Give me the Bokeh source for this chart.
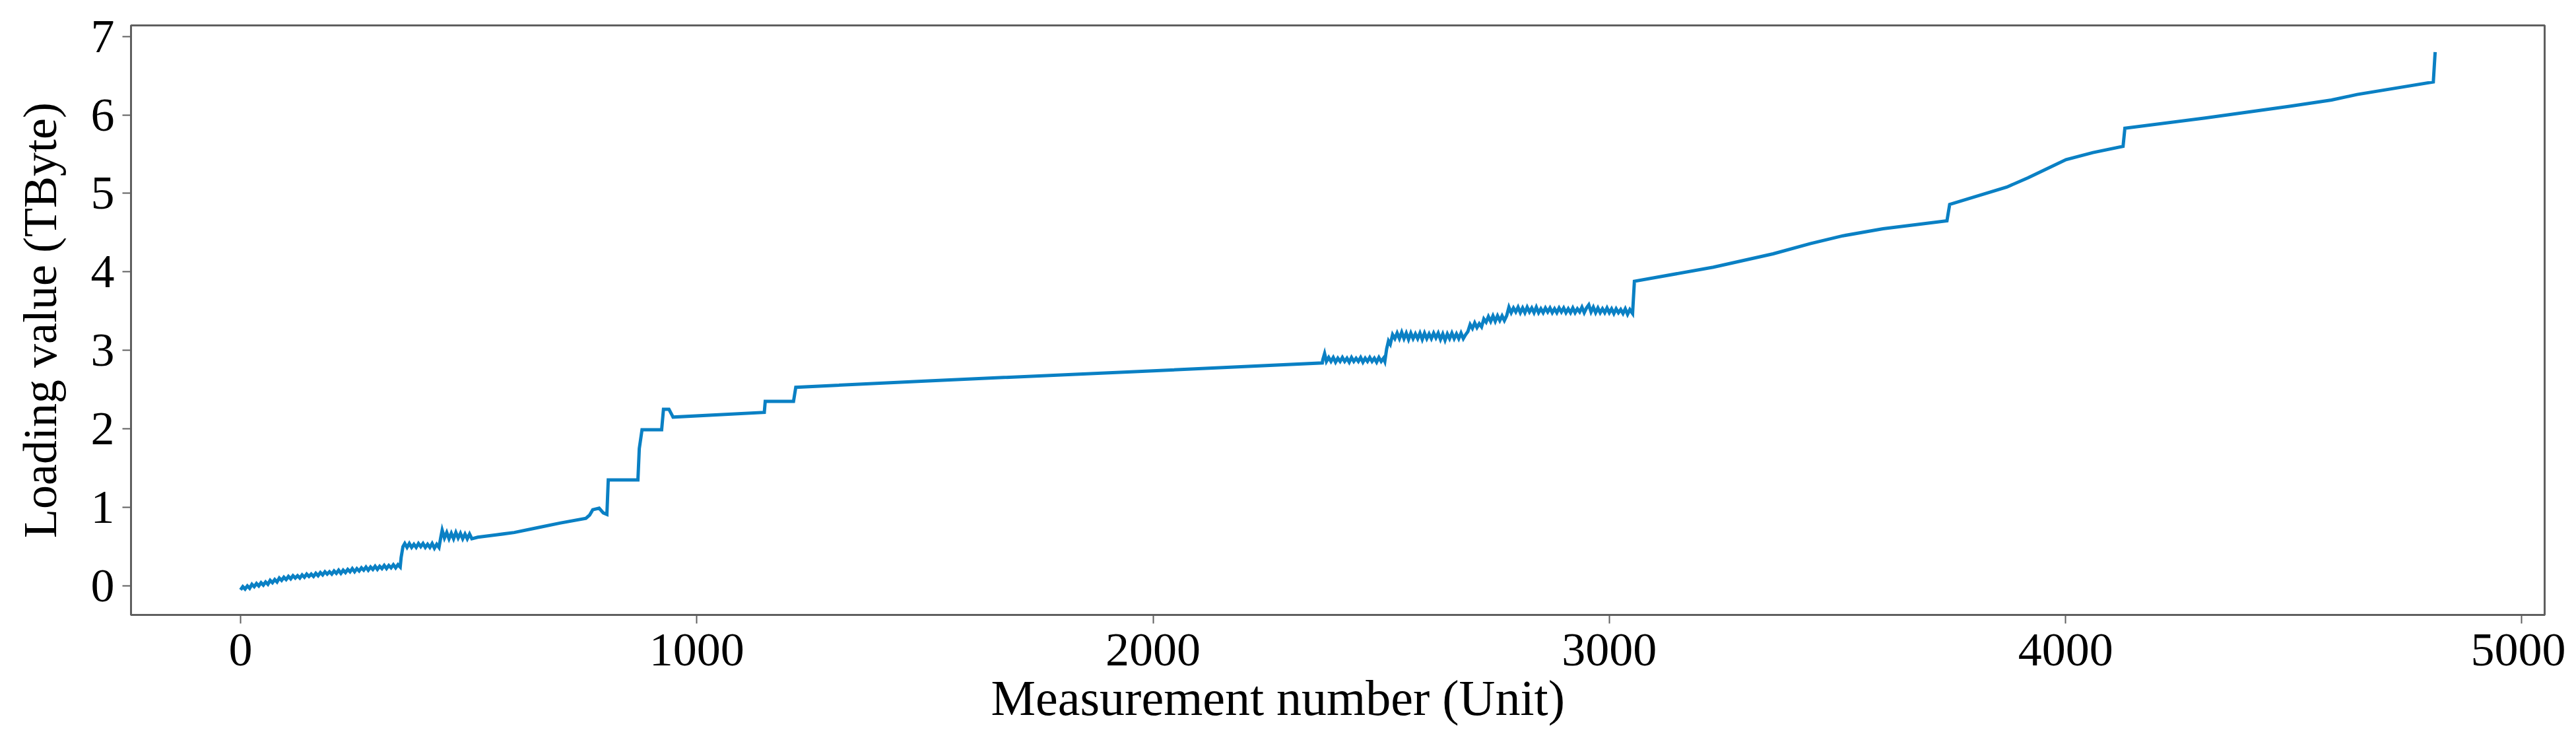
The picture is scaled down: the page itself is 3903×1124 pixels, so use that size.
from bokeh.plotting import figure
from bokeh.models import Range1d, FixedTicker, Title
from bokeh.embed import file_html
from bokeh.resources import INLINE

# ---- data ----
meas_a = [0, 5, 10, 15, 20, 25, 30, 35, 40, 45, 50, 55, 60, 65, 70, 75, 80, 85, 90, 95,
          100, 105, 110, 115, 120, 125, 130, 135, 140, 145, 150, 155, 160, 165, 170, 175,
          180, 185, 190, 195, 200, 205, 210, 215, 220, 225, 230, 235, 240, 245, 250, 255,
          260, 265, 270, 275, 280, 285, 290, 295, 300, 305, 310, 315, 320, 325, 330, 335,
          340, 345, 350]
load_a = [-0.05, -0.01, -0.04, 0.00, -0.03, 0.02, -0.01, 0.03, 0.00, 0.04, 0.01, 0.05,
          0.02, 0.07, 0.04, 0.08, 0.05, 0.10, 0.07, 0.11, 0.08, 0.12, 0.09, 0.13, 0.10,
          0.13, 0.10, 0.14, 0.11, 0.15, 0.12, 0.15, 0.12, 0.16, 0.13, 0.17, 0.14, 0.18,
          0.15, 0.18, 0.15, 0.19, 0.16, 0.20, 0.16, 0.20, 0.17, 0.21, 0.18, 0.22, 0.18,
          0.22, 0.19, 0.23, 0.20, 0.24, 0.20, 0.24, 0.21, 0.25, 0.21, 0.25, 0.22, 0.26,
          0.22, 0.26, 0.23, 0.27, 0.23, 0.27, 0.24]

meas_b = [352, 356, 360, 365, 370, 375, 380, 385, 390, 395, 400, 405, 410, 415, 420, 425,
          430, 435]
load_b = [0.36, 0.50, 0.54, 0.49, 0.54, 0.49, 0.53, 0.49, 0.54, 0.50, 0.54, 0.49, 0.53,
          0.49, 0.54, 0.48, 0.53, 0.49]

meas_c = [439, 442, 447, 452, 457, 462, 467, 472, 477, 482, 487, 492, 497, 502, 507]
load_c = [0.62, 0.71, 0.61, 0.68, 0.60, 0.67, 0.60, 0.68, 0.61, 0.67, 0.60, 0.66, 0.60,
          0.66, 0.60]

meas_d = [520, 560, 600, 650, 700, 757, 765, 772, 786, 795, 803, 806, 871, 874, 880, 923,
          927, 939, 948, 1148, 1150, 1212, 1217, 1500, 2000, 2371]
load_d = [0.62, 0.65, 0.68, 0.74, 0.80, 0.86, 0.90, 0.97, 0.99, 0.93, 0.91, 1.35, 1.35, 1.75,
          1.99, 1.99, 2.25, 2.25, 2.15, 2.21, 2.35, 2.35, 2.53, 2.61, 2.74, 2.84]

meas_e = [2372, 2376, 2380, 2385, 2390, 2395, 2400, 2405, 2410, 2415, 2420, 2425, 2430,
          2435, 2440, 2445, 2450, 2455, 2460, 2465, 2470, 2475, 2480, 2485, 2490, 2495,
          2500, 2505, 2508]
load_e = [2.88, 2.96, 2.86, 2.91, 2.86, 2.91, 2.85, 2.90, 2.86, 2.91, 2.86, 2.90, 2.85,
          2.91, 2.86, 2.90, 2.86, 2.91, 2.85, 2.90, 2.86, 2.91, 2.86, 2.90, 2.85, 2.91,
          2.86, 2.90, 2.86]

meas_f = [2512, 2516, 2520, 2525, 2530, 2535, 2540, 2545, 2550, 2555, 2560, 2565, 2570,
          2575, 2580, 2585, 2590, 2595, 2600, 2605, 2610, 2615, 2620, 2625, 2630, 2635,
          2640, 2645, 2650, 2655, 2660, 2665, 2670, 2675, 2680, 2685]
load_f = [3.02, 3.12, 3.08, 3.20, 3.15, 3.22, 3.15, 3.23, 3.15, 3.22, 3.14, 3.22, 3.15,
          3.21, 3.15, 3.22, 3.14, 3.22, 3.15, 3.21, 3.15, 3.22, 3.16, 3.22, 3.14, 3.21,
          3.13, 3.21, 3.15, 3.22, 3.15, 3.21, 3.15, 3.22, 3.15, 3.20]

meas_g = [2690, 2695, 2700, 2705, 2710, 2715, 2720, 2725, 2730, 2735, 2740, 2745, 2750,
          2755, 2760, 2765, 2770, 2775]
load_g = [3.24, 3.33, 3.28, 3.35, 3.29, 3.34, 3.30, 3.40, 3.36, 3.43, 3.37, 3.44, 3.37,
          3.44, 3.38, 3.44, 3.38, 3.44]

meas_h = [2780, 2785, 2790, 2795, 2800, 2805, 2810, 2815, 2820, 2825, 2830, 2835, 2840,
          2845, 2850, 2855, 2860, 2865, 2870, 2875, 2880, 2885, 2890, 2895, 2900, 2905,
          2910, 2915, 2920, 2925, 2930, 2935, 2940, 2945, 2950, 2955, 2960, 2965, 2970,
          2975, 2980, 2985, 2990, 2995, 3000, 3005, 3010, 3015, 3020, 3025, 3030, 3035,
          3040, 3045, 3051]
load_h = [3.55, 3.48, 3.54, 3.49, 3.55, 3.48, 3.54, 3.48, 3.55, 3.49, 3.54, 3.48, 3.55,
          3.48, 3.53, 3.48, 3.54, 3.49, 3.54, 3.48, 3.53, 3.48, 3.54, 3.49, 3.54, 3.48,
          3.53, 3.48, 3.54, 3.48, 3.53, 3.49, 3.55, 3.48, 3.54, 3.58, 3.49, 3.55, 3.48,
          3.54, 3.48, 3.53, 3.48, 3.54, 3.48, 3.53, 3.47, 3.53, 3.48, 3.52, 3.47, 3.53,
          3.46, 3.52, 3.47]

meas_i = [3055, 3228, 3359, 3440, 3512, 3600, 3740, 3746, 3871, 3918, 4001, 4060, 4126, 4130,
          4306, 4491, 4583, 4639, 4806, 4810]
load_i = [3.88, 4.06, 4.23, 4.36, 4.46, 4.55, 4.65, 4.86, 5.08, 5.20, 5.43, 5.52, 5.60, 5.83,
          5.96, 6.11, 6.19, 6.26, 6.42, 6.80]

x_ticks = [0, 1000, 2000, 3000, 4000, 5000]
y_ticks = [0, 1, 2, 3, 4, 5, 6, 7]

x_label = "Measurement number (Unit)"
y_label = "Loading value (TByte)"

measurement = meas_a + meas_b + meas_c + meas_d + meas_e + meas_f + meas_g + meas_h + meas_i
loading = load_a + load_b + load_c + load_d + load_e + load_f + load_g + load_h + load_i

# ---- figure ----
FONT = "Liberation Serif"
FS = "72px"
AXC = "#5f5f5f"

p = figure(width=3887, height=1108,
           x_range=Range1d(-240, 5050), y_range=Range1d(-0.37, 7.14),
           output_backend="svg", toolbar_location=None, title_location=None,
           min_border_left=198, min_border_right=32, min_border_top=38, min_border_bottom=177,
           background_fill_color="white", border_fill_color="white")

p.line(measurement, loading, line_color="#0a80c4", line_width=5, line_join="miter")

p.grid.visible = False
p.outline_line_color = AXC
p.outline_line_width = 3

for ax in (p.xaxis[0], p.yaxis[0]):
    ax.axis_line_color = AXC
    ax.axis_line_width = 3
    ax.major_tick_line_color = AXC
    ax.major_tick_line_width = 2
    ax.major_tick_out = 13
    ax.major_tick_in = 0
    ax.minor_tick_line_color = None
    ax.major_label_text_font = FONT
    ax.major_label_text_font_size = FS
    ax.major_label_text_color = "black"

p.xaxis[0].ticker = FixedTicker(ticks=x_ticks)
p.yaxis[0].ticker = FixedTicker(ticks=y_ticks)
p.xaxis[0].major_label_standoff = 16
p.yaxis[0].major_label_standoff = 12

p.yaxis[0].axis_label = y_label
p.yaxis[0].axis_label_text_font = FONT
p.yaxis[0].axis_label_text_font_size = FS
p.yaxis[0].axis_label_text_font_style = "normal"
p.yaxis[0].axis_label_text_color = "black"
p.yaxis[0].axis_label_standoff = 34

xt = Title(text=x_label, align="left", offset=1303, vertical_align="top", standoff=8,
           text_font=FONT, text_font_size="76px", text_font_style="normal",
           text_color="black")
p.add_layout(xt, "below")

open("out.html", "w").write(file_html(p, INLINE))
